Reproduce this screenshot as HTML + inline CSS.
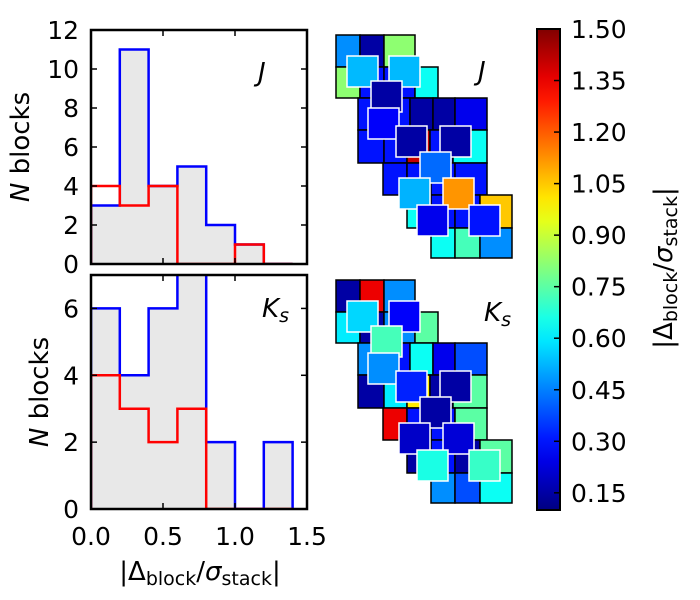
<!DOCTYPE html>
<html><head><meta charset="utf-8"><style>
html,body{margin:0;padding:0;background:#fff;}
svg{display:block;font-family:"DejaVu Sans","Liberation Sans",sans-serif;}
</style></head><body>
<svg id="fig" width="700" height="600" viewBox="0 0 700 600"></svg>
<script>
// ---- data ----
const binEdges = [0,0.2,0.4,0.6,0.8,1.0,1.2,1.4];
const jBlue = [3,11,4,5,2,1,0];
const jRed  = [4,3,4,0,0,1,0];
const ksBlue = [6,4,6,8,2,0,2];
const ksRed  = [4,3,2,3,0,0,0];
const xTicks = [0.0,0.5,1.0,1.5];
const xTickLabels = ["0.0","0.5","1.0","1.5"];
const jYTicks = [0,2,4,6,8,10,12];
const ksYTicks = [0,2,4,6];
const cbTicks = [0.15,0.30,0.45,0.60,0.75,0.90,1.05,1.20,1.35,1.50];
const cbTickLabels = ["0.15","0.30","0.45","0.60","0.75","0.90","1.05","1.20","1.35","1.50"];
// map cell values
const jBgVals = [0.47,0.15,0.82, 0.82,0.3,0.3,0.64, 0.3,0.3,0.15,0.15,0.25, 0.3,0.3,1.4,0.3,0.64, 0.3,0.3,0.3,0.3, 0.64,0.3,0.3,1.05, 0.64,0.72,0.47];
const ksBgVals = [0.15,1.35,0.47, 0.6,0.15,0.47,0.75, 0.47,0.3,0.64,0.25,0.38, 0.15,0.6,1.0,0.15,0.75, 1.35,0.3,0.3,0.75, 0.15,0.3,0.15,0.75, 0.47,0.38,0.64];
const jFgVals = [0.53,0.53,0.15,0.27,0.15,0.15,0.42,0.52,1.12,0.25,0.3];
const ksFgVals = [0.57,0.27,0.72,0.47,0.32,0.15,0.15,0.2,0.22,0.66,0.7];

const NS="http://www.w3.org/2000/svg";
const svg=document.getElementById('fig');
function mk(tag,attrs,parent){const e=document.createElementNS(NS,tag);for(const k in attrs)e.setAttribute(k,attrs[k]);(parent||svg).appendChild(e);return e;}
const vmin=0.1,vmax=1.5;
function clip(x){return Math.max(0,Math.min(1,x));}
function jet(v){const t=(v-vmin)/(vmax-vmin);const r=clip(1.5-Math.abs(4*t-3)),g=clip(1.5-Math.abs(4*t-2)),b=clip(1.5-Math.abs(4*t-1));return `rgb(${Math.round(r*255)},${Math.round(g*255)},${Math.round(b*255)})`;}
const TF=25, TITLEF=26;

// ---- histogram panels ----
const X0=91,X1=307;
function xs(v){return X0+(v-0)/(1.5)*(X1-X0);}
function panel(name,top,bot,ymax,blue,red,yticks,ylx){
  const g=mk('g',{},svg);
  
  
  const ys=v=>bot-(Math.min(v,ymax+0.5))/ymax*(bot-top);
  const clipId=name+'-clip';
  const cp=mk('clipPath',{id:clipId},g);mk('rect',{x:X0,y:top,width:X1-X0,height:bot-top},cp);
  const inner=mk('g',{'clip-path':`url(#${clipId})`},g);
  function stepPath(vals){
    let d=`M${xs(binEdges[0])},${ys(0)}`;
    for(let i=0;i<vals.length;i++){d+=` L${xs(binEdges[i])},${ys(vals[i])} L${xs(binEdges[i+1])},${ys(vals[i])}`;}
    d+=` L${xs(binEdges[vals.length])},${ys(0)}`;
    return d;
  }
  const fill=mk('path',{d:stepPath(blue)+' Z',fill:'#e8e8e8',stroke:'none'},inner);
  
  
  const bl=mk('path',{d:stepPath(blue),fill:'none',stroke:'#0000ff','stroke-width':2.5},inner);
  
  
  const rd=mk('path',{d:stepPath(red),fill:'none',stroke:'#ff0000','stroke-width':2.5},inner);
  
  
  mk('rect',{x:X0,y:top,width:X1-X0,height:bot-top,fill:'none',stroke:'#000','stroke-width':2.5},g);
  for(const t of yticks){const y=ys(t);
    mk('line',{x1:X0,x2:X0+6,y1:y,y2:y,stroke:'#000','stroke-width':1.5},g);
    mk('line',{x1:X1-6,x2:X1,y1:y,y2:y,stroke:'#000','stroke-width':1.5},g);
    const tx=mk('text',{x:X0-12,y:y+9,'text-anchor':'end','font-size':TF},g);tx.textContent=String(t);
    
    
  }
  for(const t of xTicks){const x=xs(t);
    mk('line',{x1:x,x2:x,y1:top,y2:top+6,stroke:'#000','stroke-width':1.5},g);
    mk('line',{x1:x,x2:x,y1:bot-6,y2:bot,stroke:'#000','stroke-width':1.5},g);
  }
  const cy=(top+bot)/2;
  const yl=mk('text',{x:0,y:0,'text-anchor':'middle','font-size':TITLEF,transform:`translate(${ylx},${cy}) rotate(-90)`},g);
  yl.innerHTML='<tspan font-style="italic">N</tspan> blocks';
  
  
  return g;
}
panel('j-histogram',30,264,12,jBlue,jRed,jYTicks,29);
panel('ks-histogram',275,509,7,ksBlue,ksRed,ksYTicks,48);
let t=mk('text',{x:258,y:81,'font-size':26,'font-style':'italic'});t.textContent='J';
t=mk('text',{x:262,y:317,'font-size':26,'font-style':'italic'});t.innerHTML='K<tspan font-size="19" dy="5">s</tspan>';
xTicks.forEach((v,i)=>{const e=mk('text',{x:xs(v),y:545,'text-anchor':'middle','font-size':TF});e.textContent=xTickLabels[i];
  
  });
t=mk('text',{x:200,y:580,'text-anchor':'middle','font-size':TITLEF});
t.innerHTML='|Δ<tspan font-size="19" dy="5">block</tspan><tspan dy="-5">/</tspan><tspan font-style="italic">σ</tspan><tspan font-size="19" dy="5">stack</tspan><tspan dy="-5">|</tspan>';



// ---- maps ----
const bgLayout=[
 {y:35,h:32,c:[[336,24],[360,24],[384,31]]},
 {y:67,h:31,c:[[336,24],[360,24],[384,31],[415,23]]},
 {y:98,h:32,c:[[358,26],[384,26],[410,23],[433,22],[455,32]]},
 {y:130,h:33,c:[[358,26],[384,23],[407,23],[430,23],[453,34]]},
 {y:163,h:32,c:[[383,24],[407,24],[431,24],[455,32]]},
 {y:195,h:33,c:[[407,24],[431,24],[455,25],[480,32]]},
 {y:228,h:30,c:[[431,24],[455,25],[480,32]]}
];
const fgPos=[[347,56],[389,56],[371,81],[368,108],[396,126],[440,126],[420,152],[399,178],[443,178],[417,205],[469,205]];
function drawMap(name,dy,bgVals,fgVals){
  const g=mk('g',{},svg);
  
  
  let k=0;
  for(const row of bgLayout){for(const c of row.c){
    const r=mk('rect',{x:c[0],y:row.y+dy,width:c[1],height:row.h,fill:jet(bgVals[k++]),stroke:'#000','stroke-width':1.5},g);
    
    
  }}
  fgPos.forEach((p,i)=>{
    const r=mk('rect',{x:p[0],y:p[1]+dy,width:31,height:31,fill:jet(fgVals[i]),stroke:'#fff','stroke-width':1.5},g);
    
    
  });
}
drawMap('j-map',0,jBgVals,jFgVals);
drawMap('ks-map',245,ksBgVals,ksFgVals);
t=mk('text',{x:478,y:80,'font-size':26,'font-style':'italic'});t.textContent='J';
t=mk('text',{x:484,y:321,'font-size':26,'font-style':'italic'});t.innerHTML='K<tspan font-size="19" dy="5">s</tspan>';

// ---- colorbar ----
const CB={x:537,w:23,top:29,bot:510};
const defs=mk('defs',{});
const grad=mk('linearGradient',{id:'jetg',x1:0,y1:1,x2:0,y2:0},defs);
for(let i=0;i<=20;i++){const v=vmin+(vmax-vmin)*i/20;mk('stop',{offset:i/20,'stop-color':jet(v)},grad);}
const cb=mk('rect',{x:CB.x,y:CB.top,width:CB.w,height:CB.bot-CB.top,fill:'url(#jetg)',stroke:'#000','stroke-width':2});


function cbY(v){return CB.bot-(v-vmin)/(vmax-vmin)*(CB.bot-CB.top);}
cbTicks.forEach((v,i)=>{const y=cbY(v);
  mk('line',{x1:CB.x+CB.w-6,x2:CB.x+CB.w,y1:y,y2:y,stroke:'#000','stroke-width':1.5});
  const e=mk('text',{x:571,y:y+9,'font-size':TF});e.textContent=cbTickLabels[i];
  
  
});
t=mk('text',{x:0,y:0,'text-anchor':'middle','font-size':TITLEF,transform:'translate(672,268) rotate(-90)'});
t.innerHTML='|Δ<tspan font-size="19" dy="5">block</tspan><tspan dy="-5">/</tspan><tspan font-style="italic">σ</tspan><tspan font-size="19" dy="5">stack</tspan><tspan dy="-5">|</tspan>';


</script>
</body></html>
